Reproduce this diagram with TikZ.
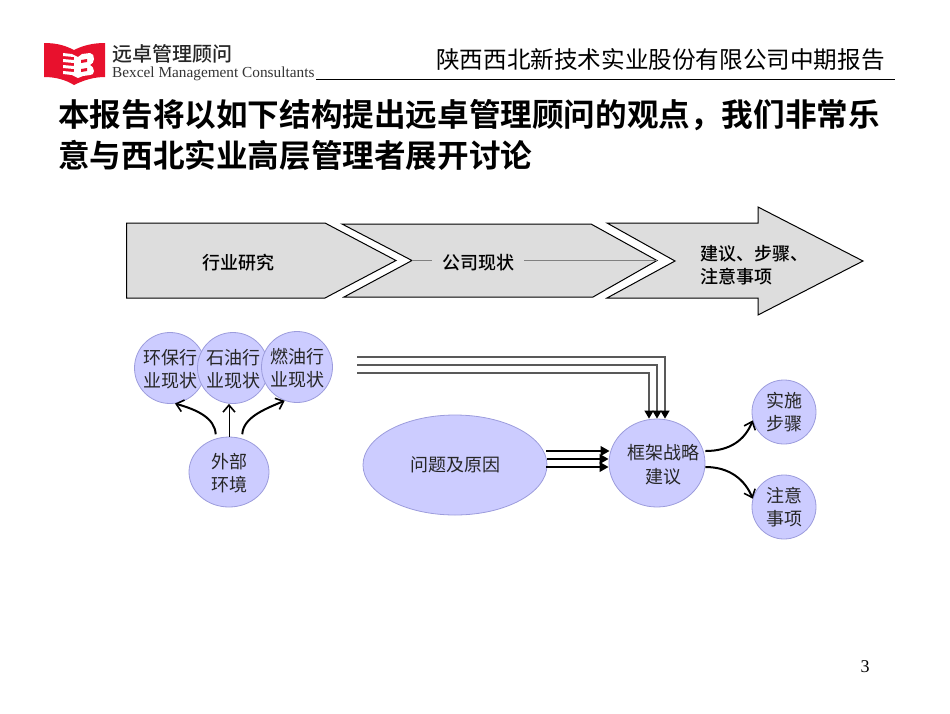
\documentclass[tikz,border=0pt]{standalone}
\usepackage{fontspec}
\setmainfont{Liberation Serif}
\newfontfamily\cjk{Noto Sans CJK SC}
\newfontfamily\cjkb{Noto Sans CJK SC Bold}
\newfontfamily\cjkm{Noto Sans CJK SC Medium}
\usetikzlibrary{shapes.geometric,arrows.meta,calc}
\newcommand{\fs}[1]{\fontsize{#1}{#1}\selectfont}
\definecolor{bub}{HTML}{CCCCFF}
\definecolor{bubline}{HTML}{9C9CDC}
\definecolor{band}{HTML}{DDDDDD}
\definecolor{logored}{HTML}{E8112D}
\tikzset{
 x=1pt,y=-1pt,
 bubble/.style={ellipse,draw=bubline,fill=bub,line width=.8pt,inner sep=0pt},
 lab/.style={font=\cjk\fs{18},align=center,text=black!85,inner sep=0pt},
 bandshape/.style={draw=black,fill=band,line width=1pt,line join=miter},
 bandtext/.style={font=\cjkm\fs{18},text=black,inner sep=0pt,align=left},
 thinlead/.style={draw=black!50,line width=.9pt},
 barb/.style={-{Straight Barb[length=7pt,width=12pt,line width=1.6pt]},line width=2pt,black},
 barbthin/.style={-{Straight Barb[length=7pt,width=12pt,line width=1.6pt]},line width=1pt,black},
 feed/.style={-{Triangle[length=8pt,width=9pt,fill=black,color=black]},draw=black!65,line width=1.3pt},
 thick feed/.style={-{Triangle[length=9pt,width=9.5pt]},draw=black,line width=2pt},
}
\begin{document}
\begin{tikzpicture}
\useasboundingbox (0,0) rectangle (950,713);
% logo
\fill[logored] (44,43) .. controls (58,43) and (66,46) .. (74,50) .. controls (84,45) and (94,43) .. (105,43) -- (105,77) .. controls (94,77) and (84,80) .. (74,85) .. controls (66,80) and (56,77) .. (44,77) -- cycle;
\fill[white] (63,53) -- (72,54) -- (78,57) -- (82,54) -- (90,53) .. controls (93,53) and (94,56) .. (94,59) .. controls (94,62) and (92,64) .. (90,65) .. controls (92,66) and (94,68) .. (94,71) .. controls (94,74) and (92,75) .. (90,75) -- (83,76) -- (78,78) -- (72,75) -- (63,74) -- (63,71) -- (74,72) -- (74,69) -- (63,68) -- (63,65) -- (74,66) -- (74,63) -- (63,62) -- (63,59) -- (74,60) -- (74,57) -- (63,56) -- cycle;
\fill[logored] (81,60) -- (87,59) -- (87,62) -- (81,63) -- cycle (81,69) -- (87,68) -- (87,71) -- (81,72) -- cycle;
\node[font=\cjkm\fs{20},text=black!85,inner sep=0pt,anchor=west] (brand) at (112,54) {远卓管理顾问};
\node[font=\fs{15.3},text=black!80,inner sep=0pt,anchor=west] (brandEn) at (112,73.5) {Bexcel Management Consultants};
% header
\coordinate (hl) at (316,79);
\coordinate (hr) at (895,79);
\draw[black,line width=1pt] (hl) -- (hr);
\node[font=\cjk\fs{23.6},inner sep=0pt] (header) at (660.5,60) {陕西西北新技术实业股份有限公司中期报告};
% title
\node[font=\cjkb\fs{31.6},inner sep=0pt,anchor=west] (t1) at (58,115) {本报告将以如下结构提出远卓管理顾问的观点，我们非常乐};
\node[font=\cjkb\fs{31.6},inner sep=0pt,anchor=west] (t2) at (58,155) {意与西北实业高层管理者展开讨论};
% chevrons
\draw[bandshape] (126.5,223) -- (325,223) -- (396,260.5) -- (325,298) -- (126.5,298) -- cycle;
\draw[bandshape] (342,224) -- (591,224) -- (657,260.5) -- (593,297) -- (344,297) -- (412,260.5) -- cycle;
\draw[bandshape] (607,223) -- (758,223) -- (758,207) -- (863,261) -- (758,315) -- (758,298) -- (607,298) -- (675,261) -- cycle;
\coordinate (notchA) at (412,260.5);
\coordinate (leadA) at (432,260.5);
\coordinate (leadB) at (524,260.5);
\coordinate (tipB) at (657,260.5);
\node[bandtext] (b1) at (238,263) {行业研究};
\node[bandtext] (b2) at (478,263) {公司现状};
\node[bandtext,anchor=west,align=left] (b3) at (700,265) {建议、步骤、\\[4.5pt]注意事项};
\draw[thinlead] (notchA) -- (leadA);
\draw[thinlead] (leadB) -- (tipB);
% bubbles
\node[bubble,minimum width=71pt,minimum height=71pt,label={[lab,yshift=-1pt]center:环保行\\[5.5pt]业现状}] (env) at (170,368) {};
\node[bubble,minimum width=71pt,minimum height=71pt,label={[lab,yshift=-1pt]center:石油行\\[5.5pt]业现状}] (oil) at (233,368) {};
\node[bubble,minimum width=71pt,minimum height=71pt,label={[lab,yshift=-1pt]center:燃油行\\[5.5pt]业现状}] (fuel) at (297,367) {};
\node[bubble,minimum width=80pt,minimum height=70pt,label={[lab,yshift=-1pt]center:外部\\[5.5pt]环境}] (ext) at (229,472) {};
\node[bubble,minimum width=184pt,minimum height=100pt,label={[lab]center:问题及原因}] (prob) at (455,465) {};
\node[bubble,minimum width=96pt,minimum height=88pt] (frame) at (657,463) {};
\node[lab] (frameT) at (663,464.5) {框架战略\\[5.5pt]建议};
\node[bubble,minimum width=64pt,minimum height=64pt,label={[lab]center:实施\\[5.5pt]步骤}] (impl) at (784,412) {};
\node[bubble,minimum width=64pt,minimum height=64pt,label={[lab]center:注意\\[5.5pt]事项}] (note) at (784,507) {};
% connectors from outer environment
\draw[barb] ($(ext.110)+(-1,-4)$) .. controls ($(ext.110)+(-2,-20)$) and (198,410) .. (env.278);
\draw[barbthin] (ext.north) -- (ext.north |- oil.south);
\draw[barb] ($(ext.70)+(1,-4)$) .. controls ($(ext.70)+(2,-20)$) and (262,410) .. (fuel.250);
% feed lines
\coordinate (f1) at (357,357);
\coordinate (f2) at (357,365);
\coordinate (f3) at (357,373);
\draw[feed] (f1) -| ($(frame.north)+(8,0)$);
\draw[feed] (f2) -| (frame.north);
\draw[feed] (f3) -| ($(frame.north)+(-8,0)$);
% thick arrows
\draw[thick feed] ($(prob.east)+(-1,-14)$) -- ($(frame.west)+(1,-12)$);
\draw[thick feed] ($(prob.east)+(-.5,-6)$) -- ($(frame.west)+(0,-4)$);
\draw[thick feed] ($(prob.east)+(-1,2)$) -- ($(frame.west)+(0,4)$);
% out arrows
\draw[barb] ($(frame.east)+(0,-12)$) .. controls (730,451) and (745,440) .. (impl.195);
\draw[barb] ($(frame.east)+(0,4)$) .. controls (730,467) and (745,480) .. (note.165);
% page number
\node[font=\fs{18},inner sep=0pt] (pg) at (865,667) {3};
\end{tikzpicture}
\end{document}
